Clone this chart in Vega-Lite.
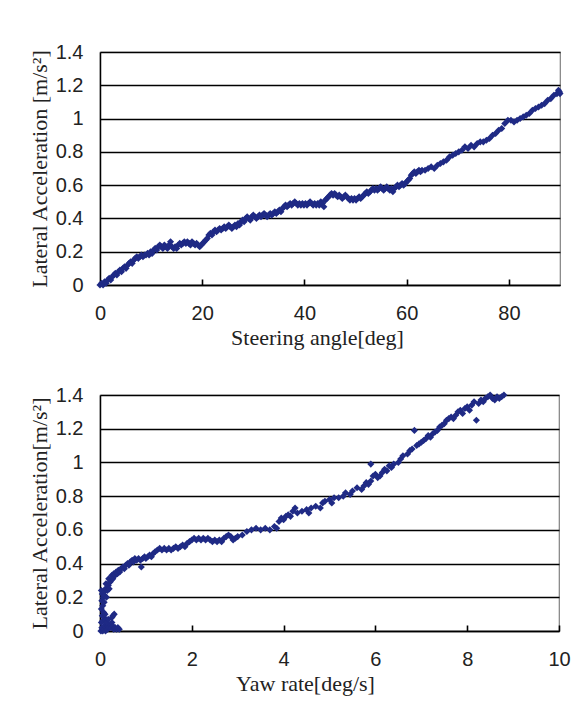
{
 "$schema": "https://vega.github.io/schema/vega-lite/v6.json",
 "background": "white",
 "padding": {"left": 27, "top": 41, "right": 10, "bottom": 5},
 "spacing": 35,
 "config": {
  "view": {"stroke": "#808080", "strokeWidth": 1.2},
  "axis": {"labelFont": "Liberation Sans", "labelFontSize": 20, "labelColor": "#222", "labelOverlap": false, "labelFlush": false, "titleFont": "Liberation Serif", "titleFontSize": 22, "titleFontWeight": "normal", "titleColor": "#222", "domainColor": "#000", "domainWidth": 1.5, "gridColor": "#000", "gridWidth": 1.6, "gridOpacity": 1}
 },
 "datasets": {
  "steer": [
{"x":0,"y":0.00},{"x":0.3,"y":0.01},{"x":0.6,"y":0.00},{"x":0.9,"y":0.02},{"x":1.2,"y":0.01},{"x":1.5,"y":0.03},{"x":1.8,"y":0.04},{"x":2.1,"y":0.03},{"x":2.4,"y":0.05},{"x":2.7,"y":0.06},{"x":3.0,"y":0.07},{"x":3.3,"y":0.06},{"x":3.6,"y":0.08},{"x":3.9,"y":0.09},{"x":4.2,"y":0.08},{"x":4.5,"y":0.10},{"x":4.8,"y":0.11},{"x":5.1,"y":0.10},{"x":5.4,"y":0.12},{"x":5.7,"y":0.13},{"x":6.0,"y":0.14},{"x":6.3,"y":0.13},{"x":6.6,"y":0.15},{"x":6.9,"y":0.16},{"x":7.2,"y":0.17},{"x":7.5,"y":0.16},{"x":7.8,"y":0.17},{"x":8.1,"y":0.18},{"x":8.4,"y":0.17},{"x":8.7,"y":0.18},{"x":9.0,"y":0.18},{"x":9.3,"y":0.19},{"x":9.6,"y":0.18},{"x":9.9,"y":0.20},{"x":10.2,"y":0.19},{"x":10.5,"y":0.21},{"x":10.8,"y":0.22},{"x":11.1,"y":0.21},{"x":11.4,"y":0.23},{"x":11.7,"y":0.24},{"x":12.0,"y":0.23},{"x":12.3,"y":0.22},{"x":12.6,"y":0.24},{"x":12.9,"y":0.23},{"x":13.2,"y":0.22},{"x":13.5,"y":0.24},{"x":13.8,"y":0.26},{"x":14.1,"y":0.23},{"x":14.4,"y":0.22},{"x":14.7,"y":0.23},{"x":15.0,"y":0.22},{"x":15.3,"y":0.24},{"x":15.6,"y":0.25},{"x":15.9,"y":0.24},{"x":16.2,"y":0.25},{"x":16.5,"y":0.26},{"x":16.8,"y":0.25},{"x":17.1,"y":0.26},{"x":17.4,"y":0.25},{"x":17.7,"y":0.24},{"x":18.0,"y":0.26},{"x":18.3,"y":0.25},{"x":18.6,"y":0.24},{"x":18.9,"y":0.25},{"x":19.2,"y":0.24},{"x":19.5,"y":0.23},{"x":19.8,"y":0.24},{"x":20.1,"y":0.25},{"x":20.4,"y":0.26},{"x":20.7,"y":0.27},{"x":21.0,"y":0.28},{"x":21.3,"y":0.30},{"x":21.6,"y":0.31},{"x":21.9,"y":0.30},{"x":22.2,"y":0.32},{"x":22.5,"y":0.33},{"x":22.8,"y":0.32},{"x":23.1,"y":0.33},{"x":23.4,"y":0.34},{"x":23.7,"y":0.33},{"x":24.0,"y":0.34},{"x":24.3,"y":0.35},{"x":24.6,"y":0.34},{"x":24.9,"y":0.35},{"x":25.2,"y":0.36},{"x":25.5,"y":0.35},{"x":25.8,"y":0.34},{"x":26.1,"y":0.35},{"x":26.4,"y":0.36},{"x":26.7,"y":0.35},{"x":27.0,"y":0.37},{"x":27.3,"y":0.36},{"x":27.6,"y":0.38},{"x":27.9,"y":0.39},{"x":28.2,"y":0.38},{"x":28.5,"y":0.40},{"x":28.8,"y":0.41},{"x":29.1,"y":0.40},{"x":29.4,"y":0.39},{"x":29.7,"y":0.41},{"x":30.0,"y":0.42},{"x":30.3,"y":0.41},{"x":30.6,"y":0.40},{"x":30.9,"y":0.41},{"x":31.2,"y":0.42},{"x":31.5,"y":0.41},{"x":31.8,"y":0.42},{"x":32.1,"y":0.43},{"x":32.4,"y":0.42},{"x":32.7,"y":0.41},{"x":33.0,"y":0.42},{"x":33.3,"y":0.43},{"x":33.6,"y":0.42},{"x":33.9,"y":0.43},{"x":34.2,"y":0.44},{"x":34.5,"y":0.43},{"x":34.8,"y":0.44},{"x":35.1,"y":0.45},{"x":35.4,"y":0.44},{"x":35.7,"y":0.46},{"x":36.0,"y":0.47},{"x":36.3,"y":0.48},{"x":36.6,"y":0.47},{"x":36.9,"y":0.48},{"x":37.2,"y":0.49},{"x":37.5,"y":0.48},{"x":37.8,"y":0.49},{"x":38.1,"y":0.50},{"x":38.4,"y":0.49},{"x":38.7,"y":0.48},{"x":39.0,"y":0.49},{"x":39.3,"y":0.48},{"x":39.6,"y":0.49},{"x":39.9,"y":0.48},{"x":40.2,"y":0.49},{"x":40.5,"y":0.48},{"x":40.8,"y":0.49},{"x":41.1,"y":0.50},{"x":41.4,"y":0.49},{"x":41.7,"y":0.48},{"x":42.0,"y":0.49},{"x":42.3,"y":0.48},{"x":42.6,"y":0.49},{"x":42.9,"y":0.48},{"x":43.2,"y":0.50},{"x":43.5,"y":0.49},{"x":43.8,"y":0.47},{"x":44.1,"y":0.51},{"x":44.4,"y":0.52},{"x":44.7,"y":0.53},{"x":45.0,"y":0.54},{"x":45.3,"y":0.55},{"x":45.6,"y":0.54},{"x":45.9,"y":0.55},{"x":46.2,"y":0.54},{"x":46.5,"y":0.53},{"x":46.8,"y":0.54},{"x":47.1,"y":0.53},{"x":47.4,"y":0.52},{"x":47.7,"y":0.53},{"x":48.0,"y":0.54},{"x":48.3,"y":0.53},{"x":48.6,"y":0.52},{"x":48.9,"y":0.51},{"x":49.2,"y":0.52},{"x":49.5,"y":0.51},{"x":49.8,"y":0.52},{"x":50.1,"y":0.51},{"x":50.4,"y":0.52},{"x":50.7,"y":0.53},{"x":51.0,"y":0.52},{"x":51.3,"y":0.53},{"x":51.6,"y":0.54},{"x":51.9,"y":0.55},{"x":52.2,"y":0.56},{"x":52.5,"y":0.55},{"x":52.8,"y":0.56},{"x":53.1,"y":0.57},{"x":53.4,"y":0.58},{"x":53.7,"y":0.57},{"x":54.0,"y":0.58},{"x":54.3,"y":0.57},{"x":54.6,"y":0.58},{"x":54.9,"y":0.59},{"x":55.2,"y":0.58},{"x":55.5,"y":0.57},{"x":55.8,"y":0.58},{"x":56.1,"y":0.59},{"x":56.4,"y":0.58},{"x":56.7,"y":0.57},{"x":57.0,"y":0.58},{"x":57.3,"y":0.56},{"x":57.6,"y":0.58},{"x":57.9,"y":0.59},{"x":58.2,"y":0.60},{"x":58.5,"y":0.59},{"x":58.8,"y":0.60},{"x":59.1,"y":0.61},{"x":59.4,"y":0.60},{"x":59.7,"y":0.61},{"x":60.0,"y":0.62},{"x":60.3,"y":0.63},{"x":60.6,"y":0.64},{"x":60.9,"y":0.66},{"x":61.2,"y":0.67},{"x":61.5,"y":0.68},{"x":61.8,"y":0.67},{"x":62.1,"y":0.68},{"x":62.4,"y":0.69},{"x":62.7,"y":0.68},{"x":63.0,"y":0.69},{"x":63.6,"y":0.69},{"x":64.2,"y":0.70},{"x":64.8,"y":0.71},{"x":65.4,"y":0.70},{"x":66.0,"y":0.72},{"x":66.6,"y":0.73},{"x":67.2,"y":0.74},{"x":67.8,"y":0.75},{"x":68.4,"y":0.77},{"x":69.0,"y":0.78},{"x":69.6,"y":0.79},{"x":70.2,"y":0.80},{"x":70.8,"y":0.81},{"x":71.4,"y":0.83},{"x":72.0,"y":0.82},{"x":72.6,"y":0.84},{"x":73.2,"y":0.83},{"x":73.8,"y":0.85},{"x":74.4,"y":0.86},{"x":75.0,"y":0.86},{"x":75.6,"y":0.87},{"x":76.2,"y":0.88},{"x":76.8,"y":0.90},{"x":77.4,"y":0.91},{"x":78.0,"y":0.93},{"x":78.6,"y":0.94},{"x":79.2,"y":0.97},{"x":79.8,"y":0.99},{"x":80.4,"y":0.99},{"x":81.0,"y":0.98},{"x":81.6,"y":0.99},{"x":82.2,"y":1.00},{"x":82.8,"y":1.01},{"x":83.4,"y":1.02},{"x":84.0,"y":1.03},{"x":84.6,"y":1.05},{"x":85.2,"y":1.06},{"x":85.8,"y":1.07},{"x":86.4,"y":1.08},{"x":87.0,"y":1.09},{"x":87.6,"y":1.11},{"x":88.2,"y":1.12},{"x":88.8,"y":1.14},{"x":89.4,"y":1.15},{"x":89.9,"y":1.16},{"x":89.7,"y":1.17},{"x":90.0,"y":1.15}
  ],
  "yaw": [
{"x":0.02,"y":0.00},{"x":0.04,"y":0.02},{"x":0.06,"y":0.00},{"x":0.08,"y":0.01},{"x":0.10,"y":0.03},{"x":0.12,"y":0.00},{"x":0.14,"y":0.02},{"x":0.16,"y":0.01},{"x":0.18,"y":0.03},{"x":0.20,"y":0.02},{"x":0.22,"y":0.04},{"x":0.24,"y":0.02},{"x":0.26,"y":0.05},{"x":0.28,"y":0.03},{"x":0.30,"y":0.01},{"x":0.33,"y":0.02},{"x":0.36,"y":0.01},{"x":0.39,"y":0.02},{"x":0.42,"y":0.01},{"x":0.03,"y":0.05},{"x":0.06,"y":0.06},{"x":0.09,"y":0.08},{"x":0.12,"y":0.06},{"x":0.15,"y":0.05},{"x":0.18,"y":0.07},{"x":0.05,"y":0.09},{"x":0.08,"y":0.11},{"x":0.11,"y":0.10},{"x":0.28,"y":0.09},{"x":0.31,"y":0.10},{"x":0.26,"y":0.08},{"x":0.03,"y":0.13},{"x":0.06,"y":0.15},{"x":0.04,"y":0.18},{"x":0.07,"y":0.20},{"x":0.05,"y":0.22},{"x":0.03,"y":0.24},{"x":0.08,"y":0.23},{"x":0.10,"y":0.21},{"x":0.12,"y":0.25},{"x":0.09,"y":0.17},{"x":0.14,"y":0.20},{"x":0.16,"y":0.24},{"x":0.13,"y":0.28},{"x":0.18,"y":0.27},{"x":0.20,"y":0.25},{"x":0.22,"y":0.29},{"x":0.19,"y":0.31},{"x":0.24,"y":0.30},{"x":0.26,"y":0.33},{"x":0.28,"y":0.31},{"x":0.30,"y":0.34},{"x":0.33,"y":0.33},{"x":0.35,"y":0.35},{"x":0.38,"y":0.34},{"x":0.40,"y":0.36},{"x":0.43,"y":0.35},{"x":0.46,"y":0.37},{"x":0.50,"y":0.38},{"x":0.53,"y":0.37},{"x":0.56,"y":0.39},{"x":0.60,"y":0.40},{"x":0.63,"y":0.39},{"x":0.66,"y":0.41},{"x":0.70,"y":0.42},{"x":0.73,"y":0.41},{"x":0.76,"y":0.43},{"x":0.80,"y":0.42},{"x":0.84,"y":0.43},{"x":0.88,"y":0.42},{"x":0.90,"y":0.38},{"x":0.93,"y":0.43},{"x":0.97,"y":0.44},{"x":1.00,"y":0.43},{"x":1.04,"y":0.44},{"x":1.08,"y":0.45},{"x":1.12,"y":0.44},{"x":1.16,"y":0.46},{"x":1.20,"y":0.47},{"x":1.25,"y":0.48},{"x":1.30,"y":0.49},{"x":1.35,"y":0.48},{"x":1.40,"y":0.49},{"x":1.45,"y":0.48},{"x":1.50,"y":0.49},{"x":1.55,"y":0.48},{"x":1.60,"y":0.49},{"x":1.65,"y":0.50},{"x":1.70,"y":0.49},{"x":1.75,"y":0.50},{"x":1.80,"y":0.51},{"x":1.85,"y":0.50},{"x":1.90,"y":0.52},{"x":1.95,"y":0.53},{"x":2.00,"y":0.54},{"x":2.05,"y":0.55},{"x":2.10,"y":0.54},{"x":2.15,"y":0.55},{"x":2.20,"y":0.54},{"x":2.25,"y":0.55},{"x":2.30,"y":0.54},{"x":2.35,"y":0.55},{"x":2.40,"y":0.54},{"x":2.45,"y":0.53},{"x":2.50,"y":0.54},{"x":2.55,"y":0.53},{"x":2.60,"y":0.54},{"x":2.65,"y":0.53},{"x":2.70,"y":0.55},{"x":2.75,"y":0.56},{"x":2.80,"y":0.57},{"x":2.85,"y":0.56},{"x":2.90,"y":0.54},{"x":2.95,"y":0.55},{"x":3.00,"y":0.56},{"x":3.10,"y":0.57},{"x":3.20,"y":0.59},{"x":3.30,"y":0.60},{"x":3.40,"y":0.61},{"x":3.50,"y":0.60},{"x":3.60,"y":0.61},{"x":3.70,"y":0.60},{"x":3.80,"y":0.62},{"x":3.85,"y":0.61},{"x":3.90,"y":0.65},{"x":3.95,"y":0.67},{"x":4.00,"y":0.66},{"x":4.05,"y":0.68},{"x":4.10,"y":0.69},{"x":4.15,"y":0.68},{"x":4.20,"y":0.71},{"x":4.25,"y":0.73},{"x":4.30,"y":0.70},{"x":4.40,"y":0.71},{"x":4.50,"y":0.72},{"x":4.55,"y":0.70},{"x":4.60,"y":0.73},{"x":4.70,"y":0.74},{"x":4.80,"y":0.73},{"x":4.85,"y":0.76},{"x":4.90,"y":0.77},{"x":5.00,"y":0.78},{"x":5.05,"y":0.76},{"x":5.10,"y":0.79},{"x":5.20,"y":0.79},{"x":5.30,"y":0.80},{"x":5.35,"y":0.82},{"x":5.45,"y":0.81},{"x":5.50,"y":0.83},{"x":5.60,"y":0.85},{"x":5.70,"y":0.84},{"x":5.75,"y":0.86},{"x":5.80,"y":0.88},{"x":5.85,"y":0.87},{"x":5.90,"y":0.89},{"x":5.90,"y":0.99},{"x":5.95,"y":0.92},{"x":6.00,"y":0.93},{"x":6.05,"y":0.91},{"x":6.10,"y":0.92},{"x":6.15,"y":0.94},{"x":6.20,"y":0.96},{"x":6.25,"y":0.95},{"x":6.30,"y":0.98},{"x":6.35,"y":0.97},{"x":6.40,"y":0.99},{"x":6.50,"y":1.00},{"x":6.55,"y":1.02},{"x":6.60,"y":1.04},{"x":6.70,"y":1.05},{"x":6.75,"y":1.07},{"x":6.80,"y":1.08},{"x":6.85,"y":1.19},{"x":6.90,"y":1.10},{"x":6.95,"y":1.11},{"x":7.00,"y":1.12},{"x":7.05,"y":1.13},{"x":7.10,"y":1.14},{"x":7.15,"y":1.16},{"x":7.20,"y":1.15},{"x":7.25,"y":1.17},{"x":7.30,"y":1.18},{"x":7.35,"y":1.19},{"x":7.40,"y":1.21},{"x":7.45,"y":1.22},{"x":7.50,"y":1.23},{"x":7.55,"y":1.25},{"x":7.60,"y":1.26},{"x":7.65,"y":1.27},{"x":7.70,"y":1.26},{"x":7.75,"y":1.28},{"x":7.80,"y":1.30},{"x":7.85,"y":1.31},{"x":7.90,"y":1.29},{"x":7.95,"y":1.32},{"x":8.00,"y":1.33},{"x":8.05,"y":1.31},{"x":8.10,"y":1.34},{"x":8.15,"y":1.36},{"x":8.20,"y":1.25},{"x":8.25,"y":1.35},{"x":8.30,"y":1.37},{"x":8.35,"y":1.36},{"x":8.40,"y":1.38},{"x":8.45,"y":1.39},{"x":8.50,"y":1.40},{"x":8.55,"y":1.38},{"x":8.60,"y":1.37},{"x":8.65,"y":1.39},{"x":8.70,"y":1.38},{"x":8.75,"y":1.39},{"x":8.80,"y":1.40}
  ]
 },
 "vconcat": [
  {
   "width": 460, "height": 233,
   "data": {"name": "steer"},
   "resolve": {"axis": {"x": "independent"}},
   "encoding": {
    "y": {"field": "y", "type": "quantitative", "scale": {"domain": [0, 1.4], "nice": false},
          "axis": {"values": [0, 0.2, 0.4, 0.6, 0.8, 1, 1.2, 1.4], "format": "~g", "ticks": false, "labelPadding": 17, "title": "Lateral Acceleration [m/s²]", "titlePadding": 4}}
   },
   "layer": [
    {
     "mark": {"type": "point", "shape": "diamond", "filled": true, "size": 50, "color": "#1f2a85", "opacity": 1},
     "encoding": {
      "x": {"field": "x", "type": "quantitative", "scale": {"domain": [0, 90], "nice": false, "zero": false},
            "axis": {"orient": "bottom", "values": [0, 20, 40, 60, 80], "grid": false, "ticks": false, "title": "Steering angle[deg]", "labelPadding": 18, "titlePadding": 4, "titleX": 217}}
     }
    },
    {
     "mark": {"type": "point", "opacity": 0},
     "encoding": {
      "x": {"field": "x", "type": "quantitative", "scale": {"domain": [0, 90], "nice": false, "zero": false},
            "axis": {"orient": "bottom", "offset": -6, "values": [20, 40, 60, 80], "grid": false, "domain": false, "labels": false, "title": null, "ticks": true, "tickSize": 6, "tickColor": "#000", "tickWidth": 1.6}}
     }
    }
   ]
  },
  {
   "width": 459, "height": 236,
   "data": {"name": "yaw"},
   "resolve": {"axis": {"x": "independent"}},
   "encoding": {
    "y": {"field": "y", "type": "quantitative", "scale": {"domain": [0, 1.4], "nice": false},
          "axis": {"values": [0, 0.2, 0.4, 0.6, 0.8, 1, 1.2, 1.4], "format": "~g", "ticks": false, "labelPadding": 17, "title": "Lateral Acceleration[m/s²]", "titlePadding": 4}}
   },
   "layer": [
    {
     "mark": {"type": "point", "shape": "diamond", "filled": true, "size": 50, "color": "#1f2a85", "opacity": 1},
     "encoding": {
      "x": {"field": "x", "type": "quantitative", "scale": {"domain": [0, 10], "nice": false},
            "axis": {"orient": "bottom", "values": [0, 2, 4, 6, 8, 10], "grid": false, "ticks": false, "title": "Yaw rate[deg/s]", "labelPadding": 18, "titlePadding": 4, "titleX": 205}}
     }
    },
    {
     "mark": {"type": "point", "opacity": 0},
     "encoding": {
      "x": {"field": "x", "type": "quantitative", "scale": {"domain": [0, 10], "nice": false},
            "axis": {"orient": "bottom", "offset": -6, "values": [2, 4, 6, 8, 10], "grid": false, "domain": false, "labels": false, "title": null, "ticks": true, "tickSize": 6, "tickColor": "#000", "tickWidth": 1.6}}
     }
    }
   ]
  }
 ]
}
